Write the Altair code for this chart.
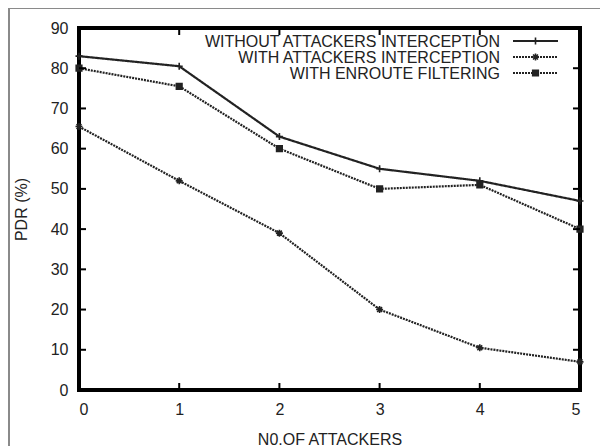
import altair as alt
import pandas as pd

# ---- data ----
attackers = [0, 1, 2, 3, 4, 5]
series_names = [
    "WITHOUT ATTACKERS INTERCEPTION",
    "WITH ATTACKERS INTERCEPTION",
    "WITH ENROUTE FILTERING",
]
without_interception = [83, 80.5, 63, 55, 52, 47]
with_interception = [65.5, 52, 39, 20, 10.5, 7]
enroute_filtering = [80, 75.5, 60, 50, 51, 40]

y_ticks = [0, 10, 20, 30, 40, 50, 60, 70, 80, 90]
x_ticks = [0, 1, 2, 3, 4, 5]

x_title = "N0.OF ATTACKERS"
y_title = "PDR (%)"

rows = []
for name, vals in zip(series_names, [without_interception, with_interception, enroute_filtering]):
    for a, v in zip(attackers, vals):
        rows.append({"attackers": a, "pdr": v, "series": name})
df = pd.DataFrame(rows)
leg = pd.DataFrame({"series": series_names})
yt = pd.DataFrame({"tv": y_ticks})
xt = pd.DataFrame({"tv": x_ticks})

INK = "#222222"
FONT = "Liberation Sans"
W, H = 501, 362
TL = 7  # inward tick length

# marker paths (gnuplot style)
PLUS = "M-1,0H1M0,-1V1"
STAR = "M-1,0H1M0,-1V1M-0.7,-0.7L0.7,0.7M-0.7,0.7L0.7,-0.7"
SQUARE = "M-0.8,-0.8H0.8V0.8H-0.8Z"

dash_scale = alt.Scale(domain=series_names, range=[[1, 0], [2, 1], [2, 1]])
shape_scale = alt.Scale(domain=series_names, range=[PLUS, STAR, SQUARE])
fill_scale = alt.Scale(domain=series_names, range=["transparent", "transparent", INK])

x_scale = alt.Scale(domain=[0, 5], nice=False, zero=False)
y_scale = alt.Scale(domain=[0, 90], nice=False)

x_enc = alt.X(
    "attackers:Q",
    scale=x_scale,
    axis=alt.Axis(
        values=x_ticks, title=x_title, labelPadding=11, titlePadding=14,
        format="d", grid=False, domain=False, ticks=False,
    ),
)
y_enc = alt.Y(
    "pdr:Q",
    scale=y_scale,
    axis=alt.Axis(
        values=y_ticks, title=y_title, labelPadding=11, titlePadding=21,
        format="d", grid=False, domain=False, ticks=False,
    ),
)

lines = alt.Chart(df).mark_line(strokeWidth=2.2, color=INK).encode(
    x=x_enc,
    y=y_enc,
    strokeDash=alt.StrokeDash("series:N", scale=dash_scale, legend=None),
)

points = alt.Chart(df).mark_point(strokeWidth=1.6, opacity=1, size=49).encode(
    x="attackers:Q",
    y="pdr:Q",
    shape=alt.Shape("series:N", scale=shape_scale, legend=None),
    fill=alt.Fill("series:N", scale=fill_scale, legend=None),
    stroke=alt.value(INK),
)

# inward gnuplot-style tick marks on all four sides of the border
tk = dict(color="black", strokeWidth=2)
left_ticks = alt.Chart(yt).mark_rule(**tk).encode(
    y=alt.Y("tv:Q"), x=alt.value(0), x2=alt.value(TL)
)
right_ticks = alt.Chart(yt).mark_rule(**tk).encode(
    y=alt.Y("tv:Q"), x=alt.value(W - TL), x2=alt.value(W)
)
bottom_ticks = alt.Chart(xt).mark_rule(**tk).encode(
    x=alt.X("tv:Q"), y=alt.value(H - TL), y2=alt.value(H)
)
top_ticks = alt.Chart(xt).mark_rule(**tk).encode(
    x=alt.X("tv:Q"), y=alt.value(0), y2=alt.value(TL)
)

main = alt.layer(lines, points, left_ticks, right_ticks, bottom_ticks, top_ticks)

# ---- in-plot key (gnuplot style: text, then line sample with marker) ----
leg_y = alt.Y(
    "series:N",
    scale=alt.Scale(type="point", domain=series_names, range=[13, 45], padding=0),
    axis=None,
)
leg_text = alt.Chart(leg).mark_text(
    align="right", baseline="middle", font=FONT, fontSize=16, color=INK, dy=1
).encode(x=alt.value(421), y=leg_y, text="series:N")
leg_line = alt.Chart(leg).mark_rule(strokeWidth=2.2, color=INK).encode(
    x=alt.value(434), x2=alt.value(479), y=leg_y,
    strokeDash=alt.StrokeDash("series:N", scale=dash_scale, legend=None),
)
leg_pt = alt.Chart(leg).mark_point(strokeWidth=1.6, opacity=1, size=49).encode(
    x=alt.value(456.5), y=leg_y,
    shape=alt.Shape("series:N", scale=shape_scale, legend=None),
    fill=alt.Fill("series:N", scale=fill_scale, legend=None),
    stroke=alt.value(INK),
)
key = alt.layer(leg_line, leg_pt, leg_text)

# ---- outer picture frame ----
one = pd.DataFrame({"k": [0]})
frame_left = alt.Chart(one).mark_rule(color="#8a8a8a", strokeWidth=2).encode(
    x=alt.value(-70), y=alt.value(-21), y2=alt.value(420)
)
frame_top = alt.Chart(one).mark_rule(color="#8a8a8a", strokeWidth=2).encode(
    y=alt.value(-20), x=alt.value(-71), x2=alt.value(530)
)
frame = alt.layer(frame_left, frame_top)

chart = (
    alt.layer(frame, main, key)
    .resolve_scale(y="independent")
    .properties(
        width=W,
        height=H,
        autosize=alt.AutoSizeParams(type="none"),
        padding={"left": 71, "top": 20, "right": 20, "bottom": 56},
        background="white",
    )
    .configure_view(stroke="black", strokeWidth=4)
    .configure_axis(
        labelFont=FONT, titleFont=FONT, labelFontSize=16, titleFontSize=16,
        labelColor=INK, titleColor=INK, titleFontWeight="normal",
    )
)

chart.save("out.html", embed_options={"renderer": "svg", "actions": False})
